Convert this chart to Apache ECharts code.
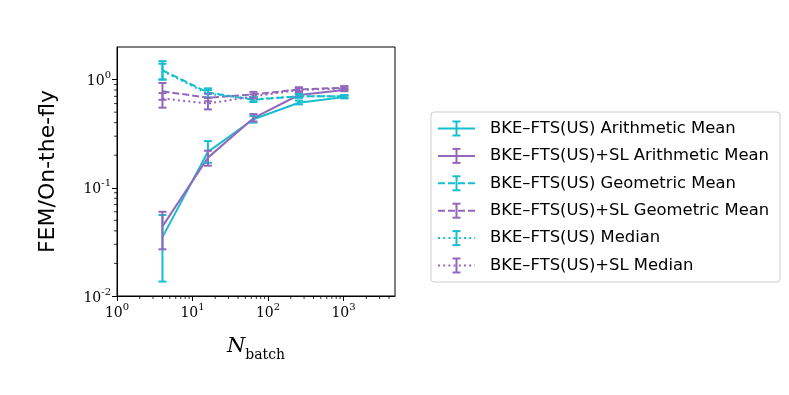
<!DOCTYPE html>
<html>
<head>
<meta charset="utf-8">
<script src="https://cdn.jsdelivr.net/npm/echarts@6/dist/echarts.min.js"></script>
<style>
  html, body { margin: 0; padding: 0; background: #fff; }
  #chart { width: 789px; height: 395px; }
</style>
</head>
<body>
<div id="chart"></div>
<script>
// N_batch values
const batchSizes = [4, 16, 64, 256, 1024];

// FEM / on-the-fly ratios (value, lower, upper)
const usArith      = [0.035, 0.215, 0.43, 0.61, 0.69];
const usArithLo    = [0.0136, 0.17, 0.40, 0.59, 0.67];
const usArithHi    = [0.056, 0.27, 0.46, 0.64, 0.71];

const slArith      = [0.044, 0.19, 0.44, 0.72, 0.80];
const slArithLo    = [0.027, 0.16, 0.41, 0.69, 0.78];
const slArithHi    = [0.060, 0.22, 0.48, 0.75, 0.83];

const usGeo        = [1.22, 0.76, 0.65, 0.70, 0.70];
const usGeoLo      = [1.00, 0.68, 0.62, 0.68, 0.68];
const usGeoHi      = [1.48, 0.83, 0.69, 0.73, 0.72];

const slGeo        = [0.78, 0.68, 0.73, 0.81, 0.84];
const slGeoLo      = [0.65, 0.63, 0.69, 0.78, 0.81];
const slGeoHi      = [0.93, 0.74, 0.77, 0.85, 0.87];

const usMedian     = [1.20, 0.74, 0.66, 0.70, 0.70];
const usMedianLo   = [1.00, 0.68, 0.63, 0.68, 0.68];
const usMedianHi   = [1.40, 0.80, 0.69, 0.73, 0.72];

const slMedian     = [0.67, 0.60, 0.70, 0.80, 0.83];
const slMedianLo   = [0.55, 0.53, 0.67, 0.77, 0.80];
const slMedianHi   = [0.75, 0.68, 0.73, 0.83, 0.86];

const seriesNames = [
  'BKE–FTS(US) Arithmetic Mean',
  'BKE–FTS(US)+SL Arithmetic Mean',
  'BKE–FTS(US) Geometric Mean',
  'BKE–FTS(US)+SL Geometric Mean',
  'BKE–FTS(US) Median',
  'BKE–FTS(US)+SL Median'
];

const CYAN = '#17becf';
const PURPLE = '#9467bd';
const SOLID = 'solid';
const DASHED = [7, 3];
const DOTTED = [2, 3.2];
const LW = 2;

const X_MIN = 1, X_MAX = 4800;
const Y_MIN = 0.01, Y_MAX = 2;

const defs = [
  { name: seriesNames[0], color: CYAN,   dash: SOLID,  y: usArith,  lo: usArithLo,  hi: usArithHi },
  { name: seriesNames[1], color: PURPLE, dash: SOLID,  y: slArith,  lo: slArithLo,  hi: slArithHi },
  { name: seriesNames[2], color: CYAN,   dash: DASHED, y: usGeo,    lo: usGeoLo,    hi: usGeoHi },
  { name: seriesNames[3], color: PURPLE, dash: DASHED, y: slGeo,    lo: slGeoLo,    hi: slGeoHi },
  { name: seriesNames[4], color: CYAN,   dash: DOTTED, y: usMedian, lo: usMedianLo, hi: usMedianHi },
  { name: seriesNames[5], color: PURPLE, dash: DOTTED, y: slMedian, lo: slMedianLo, hi: slMedianHi }
];

// minor tick values (2..9 x 10^k) inside the axis range
function minorTicks(min, max) {
  const out = [];
  for (let k = Math.floor(Math.log10(min)); k <= Math.ceil(Math.log10(max)); k++) {
    for (let m = 2; m <= 9; m++) {
      const v = m * Math.pow(10, k);
      if (v > min && v < max) out.push(v);
    }
  }
  return out;
}

function errorBarRender(color) {
  return function (params, api) {
    const x = api.value(0);
    const top = api.coord([x, api.value(2)]);
    const bot = api.coord([x, api.value(1)]);
    const cap = 4;
    const style = { stroke: color, lineWidth: LW };
    return {
      type: 'group',
      children: [
        { type: 'line', shape: { x1: top[0], y1: top[1], x2: bot[0], y2: bot[1] }, style: style },
        { type: 'line', shape: { x1: top[0] - cap, y1: top[1], x2: top[0] + cap, y2: top[1] }, style: style },
        { type: 'line', shape: { x1: bot[0] - cap, y1: bot[1], x2: bot[0] + cap, y2: bot[1] }, style: style }
      ]
    };
  };
}

const series = [];
defs.forEach(d => {
  series.push({
    name: d.name,
    type: 'line',
    data: batchSizes.map((x, i) => [x, d.y[i]]),
    showSymbol: false,
    symbol: 'none',
    lineStyle: { color: d.color, width: LW, type: d.dash },
    animation: false,
    z: 3
  });
  series.push({
    name: d.name + ' err',
    type: 'custom',
    data: batchSizes.map((x, i) => [x, d.lo[i], d.hi[i]]),
    encode: { x: 0, y: [1, 2] },
    renderItem: errorBarRender(d.color),
    animation: false,
    z: 4
  });
});

// minor ticks (matplotlib style log minor ticks)
series.push({
  type: 'custom',
  data: minorTicks(X_MIN, X_MAX).map(v => [v]),
  encode: { x: 0 },
  clip: false,
  silent: true,
  renderItem: function (params, api) {
    const p = api.coord([api.value(0), Y_MIN]);
    return { type: 'line', shape: { x1: p[0], y1: p[1], x2: p[0], y2: p[1] + 3 }, style: { stroke: '#000', lineWidth: 0.8 } };
  }
});
series.push({
  type: 'custom',
  data: minorTicks(Y_MIN, Y_MAX).map(v => [X_MIN, v]),
  encode: { x: 0, y: 1 },
  clip: false,
  silent: true,
  renderItem: function (params, api) {
    const p = api.coord([X_MIN, api.value(1)]);
    return { type: 'line', shape: { x1: p[0], y1: p[1], x2: p[0] - 3, y2: p[1] }, style: { stroke: '#000', lineWidth: 0.8 } };
  }
});

function powLabel(v) {
  const e = Math.log10(v);
  if (Math.abs(e - Math.round(e)) > 1e-6) return '';
  return '{b|10}{s|' + Math.round(e) + '}';
}

const labelRich = {
  b: { fontFamily: 'DejaVu Serif', fontSize: 14, color: '#000', verticalAlign: 'bottom', lineHeight: 18 },
  s: { fontFamily: 'DejaVu Serif', fontSize: 10, color: '#000', verticalAlign: 'top', lineHeight: 18, padding: [0, 0, 8, 0] }
};

// legend built from graphic elements (line + error bar glyph)
const legendGraphic = [{
  type: 'rect',
  shape: { x: 431, y: 112, width: 349, height: 170, r: 3 },
  style: { fill: '#fff', stroke: '#cccccc', lineWidth: 1 },
  z: 10
}];
defs.forEach((d, i) => {
  const cy = 128.5 + i * 27.4;
  const st = { stroke: d.color, lineWidth: LW, lineDash: d.dash === SOLID ? null : d.dash };
  const bar = { stroke: d.color, lineWidth: LW };
  legendGraphic.push(
    { type: 'line', shape: { x1: 438, y1: cy, x2: 475, y2: cy }, style: st, z: 11 },
    { type: 'line', shape: { x1: 456.5, y1: cy - 7, x2: 456.5, y2: cy + 7 }, style: bar, z: 11 },
    { type: 'line', shape: { x1: 452.5, y1: cy - 7, x2: 460.5, y2: cy - 7 }, style: bar, z: 11 },
    { type: 'line', shape: { x1: 452.5, y1: cy + 7, x2: 460.5, y2: cy + 7 }, style: bar, z: 11 },
    { type: 'text', x: 490, y: cy, style: { text: d.name, fontFamily: 'DejaVu Sans', fontSize: 16.4, fill: '#000', verticalAlign: 'middle' }, z: 11 }
  );
});

const chart = echarts.init(document.getElementById('chart'));
chart.setOption({
  animation: false,
  backgroundColor: '#fff',
  grid: { left: 117, right: 394, top: 47, bottom: 99, show: true, borderColor: '#000', borderWidth: 1, backgroundColor: 'transparent' },
  xAxis: {
    type: 'log', logBase: 10, min: X_MIN, max: X_MAX,
    axisLine: { lineStyle: { color: '#000', width: 1 } },
    axisTick: { inside: false, length: 5, lineStyle: { color: '#000', width: 1 } },
    splitLine: { show: false },
    axisLabel: { formatter: powLabel, rich: labelRich, margin: 6, showMaxLabel: false },
    name: '{n|N}{t|batch}',
    nameLocation: 'middle',
    nameGap: 40,
    nameTextStyle: {
      rich: {
        n: { fontFamily: 'DejaVu Serif', fontStyle: 'italic', fontSize: 21, color: '#000', verticalAlign: 'top', lineHeight: 26 },
        t: { fontFamily: 'DejaVu Serif', fontSize: 14, color: '#000', verticalAlign: 'bottom', lineHeight: 26, padding: [8, 0, 0, 0] }
      }
    }
  },
  yAxis: {
    type: 'log', logBase: 10, min: Y_MIN, max: Y_MAX,
    axisLine: { lineStyle: { color: '#000', width: 1 } },
    axisTick: { inside: false, length: 5, lineStyle: { color: '#000', width: 1 } },
    splitLine: { show: false },
    axisLabel: { formatter: powLabel, rich: labelRich, margin: 6, showMaxLabel: false },
    name: 'FEM/On-the-fly',
    nameLocation: 'middle',
    nameGap: 58,
    nameTextStyle: { fontFamily: 'DejaVu Sans', fontSize: 22, color: '#000' }
  },
  graphic: legendGraphic,
  series: series
});
</script>
</body>
</html>
